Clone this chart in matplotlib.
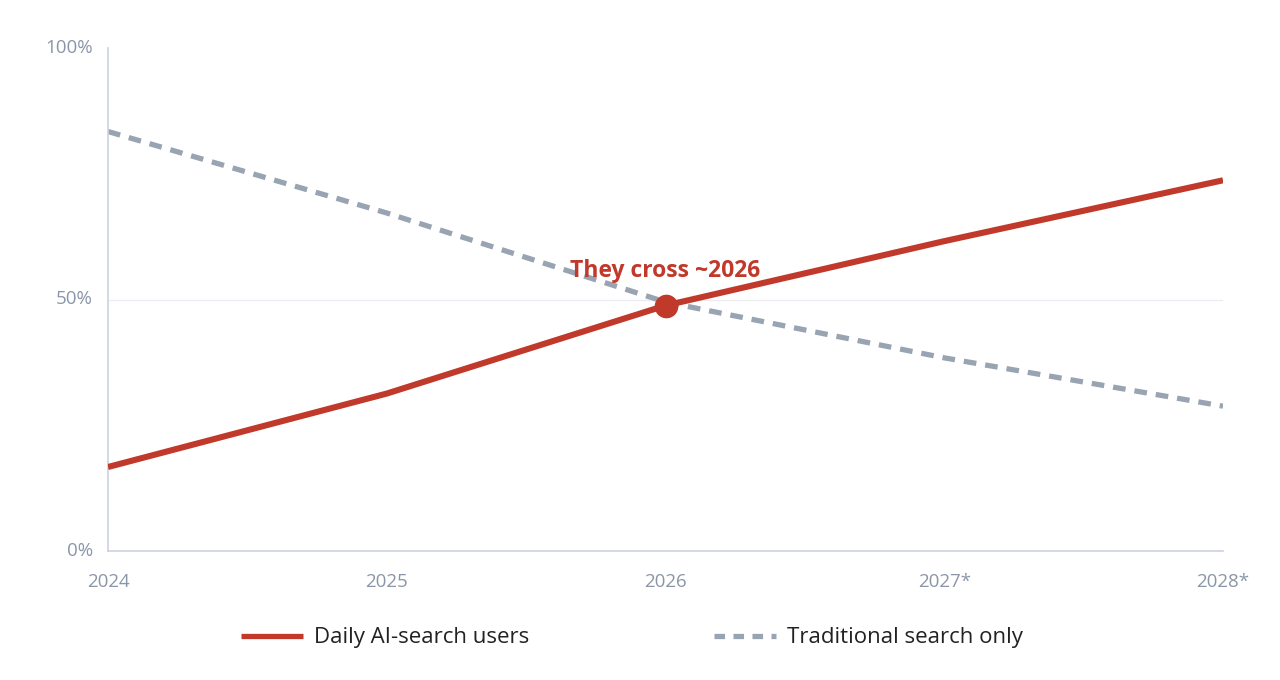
import matplotlib
matplotlib.use("Agg")
import matplotlib.pyplot as plt
from matplotlib.lines import Line2D

plt.rcParams['font.family'] = ['Open Sans', 'DejaVu Sans']

years = ["2024", "2025", "2026", "2027*", "2028*"]
ai_users = [16.7, 31.3, 48.8, 61.6, 73.7]
traditional = [83.4, 67.2, 49.5, 38.4, 28.8]
y_ticks = [0, 50, 100]
y_tick_labels = ["0%", "50%", "100%"]
cross_index = 2
annotation = "They cross ~2026"
series_names = ["Daily AI-search users", "Traditional search only"]

RED = "#c0392b"
GRAY = "#98a4b2"
TICK = "#8a96a8"
AXIS = "#ccd2e0"

fig = plt.figure(figsize=(12.8, 6.8), dpi=100)
ax = fig.add_axes([108/1280, 1-551/680, (1223-108)/1280, (551-48)/680])

x = list(range(len(years)))
ax.plot(x, traditional, color=GRAY, lw=3.8, dashes=(2.4, 1.7), solid_capstyle='butt', zorder=2)
ax.plot(x, ai_users, color=RED, lw=4.4, solid_capstyle='butt', zorder=3)
ax.plot(x[cross_index], ai_users[cross_index], 'o', color=RED, ms=16, zorder=4)
ax.text(x[cross_index], ai_users[cross_index] + 4.4, annotation, color=RED,
        fontsize=16.5, fontweight='bold', ha='center', va='bottom', zorder=5)

ax.set_xlim(0, len(years) - 1)
ax.set_ylim(0, 100)
ax.set_xticks(x)
ax.set_xticklabels(years)
ax.set_yticks(y_ticks)
ax.set_yticklabels(y_tick_labels)
ax.tick_params(axis='both', length=0, colors=TICK, labelsize=13.5)
ax.tick_params(axis='x', pad=16)
ax.tick_params(axis='y', pad=11)
for lbl in ax.get_yticklabels():
    lbl.set_va('center')
ax.axhline(50, color="#ececf2", lw=1.0, zorder=1)

for s in ['top', 'right']:
    ax.spines[s].set_visible(False)
for s in ['left', 'bottom']:
    ax.spines[s].set_color(AXIS)
    ax.spines[s].set_linewidth(1.2)

handles = [Line2D([], [], color=RED, lw=3.8, solid_capstyle='butt'),
           Line2D([], [], color=GRAY, lw=3.8, dashes=(2.0, 1.6))]
fig.legend(handles, series_names, loc='center', bbox_to_anchor=(632/1280, 1-638/680),
           ncol=2, frameon=False, fontsize=16, handlelength=2.8, handletextpad=0.5,
           columnspacing=8.3, labelcolor="#222222")

fig.savefig("out.png", dpi=100, facecolor='white')
